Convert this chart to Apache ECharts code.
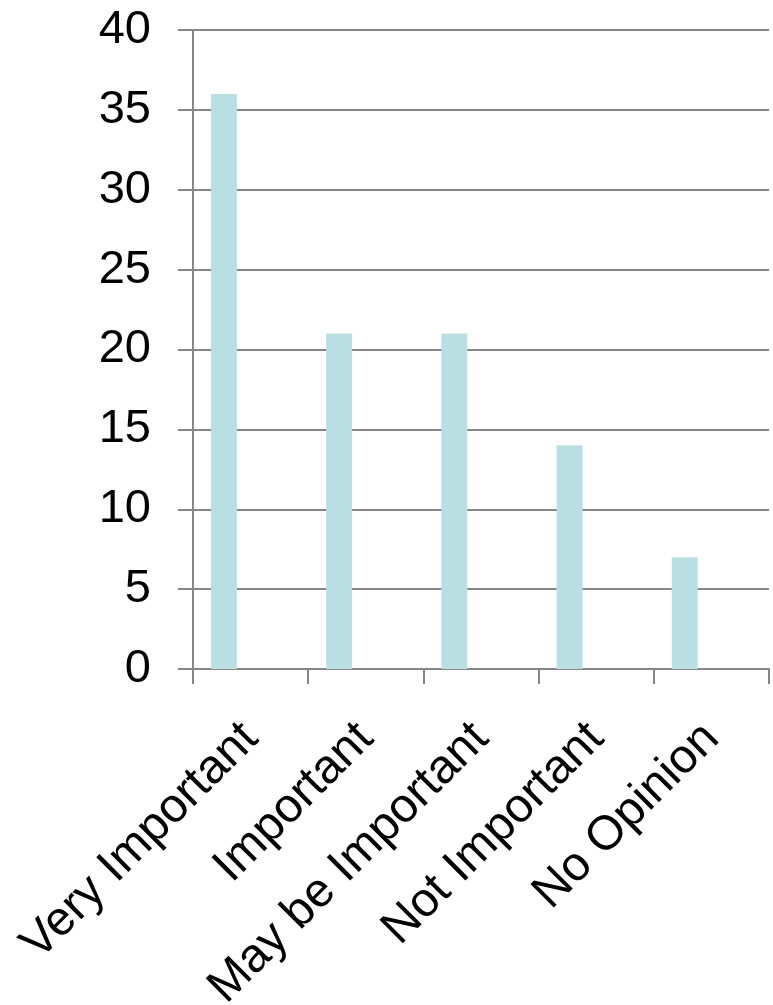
<!DOCTYPE html>
<html>
<head>
<meta charset="utf-8">
<script src="https://cdn.jsdelivr.net/npm/echarts@6/dist/echarts.min.js"></script>
<style>
html,body{margin:0;padding:0;background:#fff;}
#chart{width:773px;height:1005px;}
</style>
</head>
<body>
<div id="chart"></div>
<script>
const categories = ['Very Important', 'Important', 'May be Important', 'Not Important', 'No Opinion'];
const values = [36, 21, 21, 14, 7];
const emptySeries = ['-', '-', '-', '-', '-'];
const yTicks = [0, 5, 10, 15, 20, 25, 30, 35, 40];

const chart = echarts.init(document.getElementById('chart'));
const gray = '#868686';
chart.setOption({
  animation: false,
  backgroundColor: '#ffffff',
  grid: { left: 193, right: 4, top: 30, bottom: 336, containLabel: false, outerBoundsMode: 'none' },
  xAxis: {
    type: 'category',
    data: categories,
    boundaryGap: true,
    axisLine: { show: true, lineStyle: { color: gray, width: 2 } },
    axisTick: { show: true, length: 15, lineStyle: { color: gray, width: 2 }, alignWithLabel: false },
    axisLabel: {
      interval: 0,
      rotate: 45,
      margin: 62,
      fontFamily: 'Liberation Sans, Arial, sans-serif',
      fontSize: 48,
      color: '#000'
    },
    splitLine: { show: false }
  },
  yAxis: {
    type: 'value',
    min: yTicks[0],
    max: yTicks[yTicks.length - 1],
    interval: 5,
    axisLine: { show: true, lineStyle: { color: gray, width: 2 } },
    axisTick: { show: true, length: 15, lineStyle: { color: gray, width: 2 } },
    axisLabel: {
      margin: 42,
      fontFamily: 'Liberation Sans, Arial, sans-serif',
      fontSize: 47,
      color: '#000'
    },
    splitLine: { show: true, lineStyle: { color: gray, width: 2 } }
  },
  series: [
    {
      type: 'bar',
      data: values,
      barWidth: 26,
      barGap: '105%',
      itemStyle: { color: '#BADFE2' }
    },
    {
      type: 'bar',
      data: emptySeries,
      barWidth: 26,
      itemStyle: { color: '#BADFE2' }
    }
  ]
});
</script>
</body>
</html>
